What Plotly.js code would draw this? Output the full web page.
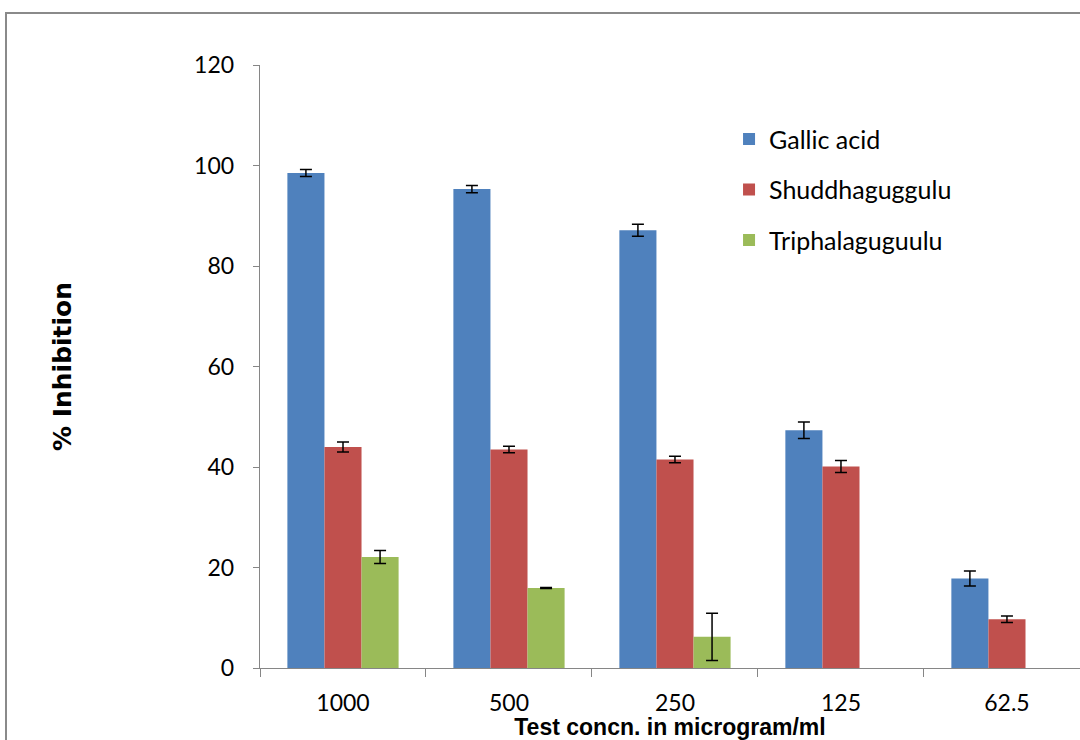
<!DOCTYPE html>
<html>
<head>
<meta charset="utf-8">
<script src="https://cdn.plot.ly/plotly-3.0.1.min.js"></script>
<style>
html,body{margin:0;padding:0;width:1080px;height:740px;overflow:hidden;background:#fff;}
#chart{width:1080px;height:740px;}
#frame{position:absolute;left:5px;top:12px;width:2000px;height:2000px;border:2px solid #8a8a8a;pointer-events:none;}
</style>
</head>
<body>
<div id="chart"></div>
<div id="frame"></div>
<script>
const categories = ["1000", "500", "250", "125", "62.5"];
const seriesNames = ["Gallic acid", "Shuddhaguggulu", "Triphalaguguulu"];
const gallic = [98.5, 95.3, 87.1, 47.3, 17.8];
const gallicErr = [0.7, 0.7, 1.2, 1.65, 1.5];
const shuddha = [44.0, 43.5, 41.5, 40.1, 9.7];
const shuddhaErr = [1.0, 0.65, 0.65, 1.2, 0.65];
const tripha = [22.1, 15.9, 6.2, null, null];
const triphaErr = [1.3, 0.1, 4.7, null, null];
const colors = ["#4F81BD", "#C0504D", "#9BBB59"];

const values = [gallic, shuddha, tripha];
const errs = [gallicErr, shuddhaErr, triphaErr];

const tickFont = {family: "Lato, 'Open Sans', sans-serif", size: 23, color: "#000"};

const traces = values.map((v, i) => ({
  type: "bar",
  name: seriesNames[i],
  x: categories,
  y: v,
  legendgroup: "g" + i,
  marker: {color: colors[i]},
  error_y: {
    type: "data",
    array: errs[i],
    visible: true,
    color: "#000",
    thickness: 1.5,
    width: 6
  }
}));

const layout = {
  width: 1080,
  height: 740,
  margin: {l: 260, r: 0, t: 65, b: 72},
  paper_bgcolor: "#fff",
  plot_bgcolor: "#fff",
  bargap: 0.33,
  bargroupgap: 0,
  barmode: "group",
  showlegend: true,
  legend: {
    x: 0.572, y: 0.915, xanchor: "left", yanchor: "top",
    font: {family: "Lato, 'Open Sans', sans-serif", size: 25, color: "#000"},
    tracegroupgap: 15,
    bgcolor: "rgba(0,0,0,0)"
  },
  font: {family: "Lato, 'Open Sans', sans-serif", color: "#000"},
  xaxis: {
    type: "category",
    range: [-0.5, 4.44],
    showline: true,
    linecolor: "#868686",
    linewidth: 1.3,
    ticks: "outside",
    tickson: "boundaries",
    ticklen: 8,
    tickcolor: "#868686",
    tickfont: tickFont,
    ticklabelstandoff: 14,
    showgrid: false,
    zeroline: false,
    title: {
      text: "Test concn. in microgram/ml",
      font: {family: "'Liberation Sans', Arial, sans-serif", size: 23, color: "#000", weight: "bold"},
      standoff: 4
    }
  },
  yaxis: {
    range: [0, 120],
    dtick: 20,
    showline: true,
    linecolor: "#868686",
    linewidth: 1.3,
    ticks: "outside",
    ticklen: 6,
    tickcolor: "#868686",
    tickfont: tickFont,
    ticklabelstandoff: 14,
    showgrid: false,
    zeroline: false,
    title: {
      text: "% Inhibition",
      font: {family: "'DejaVu Sans', sans-serif", size: 25, color: "#000", weight: "bold"},
      standoff: 115
    }
  }
};

Plotly.newPlot("chart", traces, layout, {displayModeBar: false, staticPlot: true});
</script>
</body>
</html>
